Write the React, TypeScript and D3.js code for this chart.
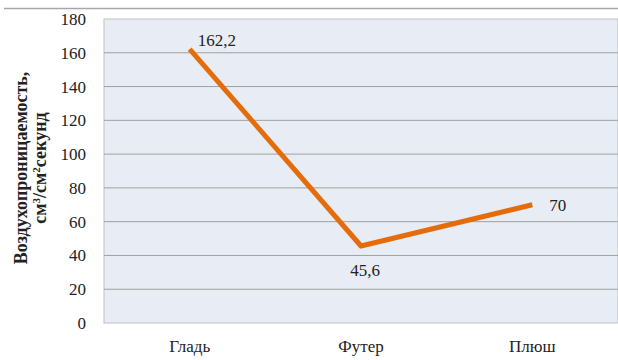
import React from "react";
import * as d3 from "d3";

const categories = ["Гладь", "Футер", "Плюш"];
const values = [162.2, 45.6, 70];
const valueLabels = ["162,2", "45,6", "70"];
const yTicks = [0, 20, 40, 60, 80, 100, 120, 140, 160, 180];

export default function App() {
  const W = 618, H = 360;
  const left = 104, right = 618, top = 19, bottom = 323;
  const x = d3.scalePoint<string>().domain(categories).range([left, right]).padding(0.5);
  const y = d3.scaleLinear().domain([0, 180]).range([bottom, top]);
  const line = d3.line<number>().x((_, i) => x(categories[i])!).y((d) => y(d));
  const font = "Liberation Serif";
  const labelPos = [
    { dx: 8, dy: -3, anchor: "start" },
    { dx: 4, dy: 30, anchor: "middle" },
    { dx: 17, dy: 6, anchor: "start" },
  ];
  return (
    <svg width={W} height={H} style={{ position: "absolute", left: 0, top: 0, fontFamily: font }}>
      <rect x={0} y={0} width={W} height={H} fill="#fff" />
      <line x1={4} x2={W} y1={8.5} y2={8.5} stroke="#a6a6a6" strokeWidth={1.5} />
      <rect x={left} y={top} width={right - left} height={bottom - top} fill="#e8ecf4" stroke="#bfbfbf" />
      {yTicks.map((t) => (
        <g key={t}>
          {t > 0 && t < 180 && (
            <line x1={left} x2={right} y1={y(t)} y2={y(t)} stroke="#a0a0a0" strokeWidth={1} />
          )}
          <text x={86} y={y(t)} dy="0.35em" textAnchor="end" style={{ fontFamily: font }} fontSize={17} fill="#222">
            {t}
          </text>
        </g>
      ))}
      {categories.map((c) => (
        <text key={c} x={x(c)!} y={352} textAnchor="middle" style={{ fontFamily: font }} fontSize={17} fill="#222">
          {c}
        </text>
      ))}
      <path d={line(values)!} fill="none" stroke="#e46c0a" strokeWidth={5} strokeLinejoin="round" />
      {values.map((v, i) => (
        <text
          key={i}
          x={x(categories[i])! + labelPos[i].dx}
          y={y(v) + labelPos[i].dy}
          textAnchor={labelPos[i].anchor}
          style={{ fontFamily: font }}
          fontSize={17}
          fill="#222"
        >
          {valueLabels[i]}
        </text>
      ))}
      <g transform="translate(27,168) rotate(-90)" style={{ fontFamily: font }} fontSize={18} fontWeight="bold" fill="#222">
        <text x={0} y={0} textAnchor="middle">Воздухопроницаемость,</text>
        <text x={0} y={19} textAnchor="middle">
          см<tspan baselineShift="super" fontSize={11}>3</tspan>/см<tspan baselineShift="super" fontSize={11}>2</tspan>секунд
        </text>
      </g>
    </svg>
  );
}
